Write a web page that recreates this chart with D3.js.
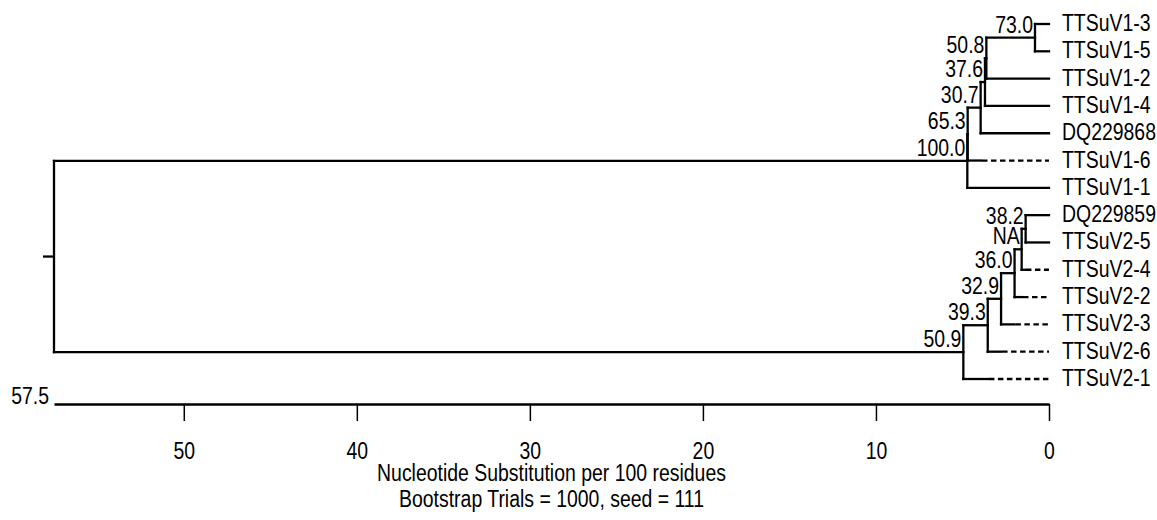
<!DOCTYPE html>
<html>
<head>
<meta charset="utf-8">
<script src="https://cdn.jsdelivr.net/npm/d3@7"></script>
<style>
  body { margin: 0; background: #fff; }
  text { font-family: "Liberation Sans", Arial, Helvetica, sans-serif; fill: #000; }
</style>
</head>
<body>
<div id="chart"></div>
<script>
// Leaves, top to bottom
const leafNames = ["TTSuV1-3", "TTSuV1-5", "TTSuV1-2", "TTSuV1-4", "DQ229868", "TTSuV1-6", "TTSuV1-1",
  "DQ229859", "TTSuV2-5", "TTSuV2-4", "TTSuV2-2", "TTSuV2-3", "TTSuV2-6", "TTSuV2-1"];

// Internal nodes: children, height (substitutions per 100 residues), bootstrap label
const nodeIds = ["n1", "n2", "n3", "n4", "n5", "n6", "m1", "m2", "m3", "m4", "m5", "m6", "root"];
const nodeChildren = [
  ["TTSuV1-3", "TTSuV1-5"], ["n1", "TTSuV1-2"], ["n2", "TTSuV1-4"], ["n3", "DQ229868"],
  ["n4", "TTSuV1-6"], ["n5", "TTSuV1-1"],
  ["DQ229859", "TTSuV2-5"], ["m1", "TTSuV2-4"], ["m2", "TTSuV2-2"], ["m3", "TTSuV2-3"],
  ["m4", "TTSuV2-6"], ["m5", "TTSuV2-1"],
  ["n6", "m6"]
];
const nodeHeights = [0.81, 3.62, 3.70, 3.95, 4.70, 4.72, 1.35, 1.58, 1.99, 2.77, 3.54, 4.95, 57.5];
const bootstrap = ["73.0", "50.8", "37.6", "30.7", "65.3", "100.0", "38.2", "NA", "36.0", "32.9", "39.3", "50.9", "57.5"];

// Leaves with negative branch length: solid up to this height, dotted to the tip
const negativeLeaves = ["TTSuV1-6", "TTSuV2-4", "TTSuV2-2", "TTSuV2-3", "TTSuV2-6", "TTSuV2-1"];
const negativeTipHeights = [3.93, 1.39, 1.56, 2.00, 2.77, 3.53];

const axisTicks = [50, 40, 30, 20, 10, 0];
const titleLines = ["Nucleotide Substitution per 100 residues", "Bootstrap Trials = 1000, seed = 111"];

const W = 1157, H = 520;
const fontSize = 24, squeeze = 0.81;

const svg = d3.select("#chart")
  .append("svg")
  .attr("width", W)
  .attr("height", H);

const rootHeight = nodeHeights[nodeIds.indexOf("root")];

const xScale = d3.scaleLinear()
  .domain([rootHeight, 0])
  .range([54, 1049]);

const yScale = d3.scalePoint()
  .domain(leafNames)
  .range([24, 379]);

// Build hierarchy
const childMap = new Map(nodeIds.map((id, i) => [id, nodeChildren[i]]));
const heightMap = new Map(nodeIds.map((id, i) => [id, nodeHeights[i]]));
const labelMap = new Map(nodeIds.map((id, i) => [id, bootstrap[i]]));
const tipMap = new Map(negativeLeaves.map((id, i) => [id, negativeTipHeights[i]]));

const root = d3.hierarchy("root", id => childMap.get(id));
root.eachAfter(d => {
  d.py = d.children ? d3.mean(d.children, c => c.py) : yScale(d.data);
  d.px = xScale(d.children ? heightMap.get(d.data) : 0);
});

const g = svg.append("g")
  .attr("fill", "none")
  .attr("stroke", "#000")
  .attr("stroke-width", 2.3);

const internal = root.descendants().filter(d => d.children);

// vertical bars
g.selectAll("line.v")
  .data(internal)
  .join("line")
  .attr("class", "v")
  .attr("stroke-linecap", "square")
  .attr("x1", d => d.px).attr("x2", d => d.px)
  .attr("y1", d => d3.min(d.children, c => c.py))
  .attr("y2", d => d3.max(d.children, c => c.py));

// horizontal branches
const links = root.links();
g.selectAll("line.h")
  .data(links)
  .join("line")
  .attr("class", "h")
  .attr("stroke-linecap", "square")
  .attr("x1", d => d.source.px)
  .attr("x2", d => tipMap.has(d.target.data) ? xScale(tipMap.get(d.target.data)) : d.target.px)
  .attr("y1", d => d.target.py)
  .attr("y2", d => d.target.py);

// dotted remainder of negative branches
g.selectAll("line.neg")
  .data(links.filter(d => tipMap.has(d.target.data)))
  .join("line")
  .attr("class", "neg")
  .attr("stroke-dasharray", "5.5,3.5")
  .attr("x1", d => xScale(tipMap.get(d.target.data)) + 1)
  .attr("x2", d => d.target.px)
  .attr("y1", d => d.target.py)
  .attr("y2", d => d.target.py);

// root stub
g.append("line")
  .attr("x1", root.px - 11).attr("x2", root.px)
  .attr("y1", root.py).attr("y2", root.py);

// text helper: squeezed text placed at (x, y)
function place(sel, fx, fy) {
  return sel.attr("transform", (d, i) => `translate(${fx(d, i)},${fy(d, i)}) scale(${squeeze},1)`)
    .style("font-size", fontSize + "px");
}

// leaf labels
place(svg.append("g").selectAll("text")
  .data(root.leaves())
  .join("text")
  .text(d => d.data), d => d.px + 13, d => d.py + 7);

// bootstrap labels
place(svg.append("g").selectAll("text")
  .data(internal.filter(d => d.data !== "root"))
  .join("text")
  .attr("text-anchor", "end")
  .text(d => labelMap.get(d.data)), d => d.px - 2, d => d.py - 5);

// axis
const axisY = 404;
const xAxis = d3.axisBottom(xScale)
  .tickValues(axisTicks)
  .tickSize(17)
  .tickSizeOuter(0)
  .tickPadding(21)
  .tickFormat(d3.format("d"));

const ax = svg.append("g")
  .attr("transform", `translate(0,${axisY})`)
  .call(xAxis);
ax.select(".domain").attr("stroke-width", 2.6);
ax.selectAll(".tick line").attr("stroke-width", 1.5);
ax.selectAll(".tick text")
  .attr("font-family", null)
  .style("font-size", fontSize + "px")
  .attr("transform", `scale(${squeeze},1)`);

// root height label at left end of axis
place(svg.append("text")
  .datum(rootHeight)
  .attr("text-anchor", "end")
  .text(d => d3.format(".1f")(d)), d => xScale(d) - 5, () => axisY);

// titles
const midX = (xScale.range()[0] + xScale.range()[1]) / 2;
place(svg.append("g").selectAll("text")
  .data(titleLines)
  .join("text")
  .attr("text-anchor", "middle")
  .text(d => d), () => midX, (d, i) => 481 + i * 26);
</script>
</body>
</html>
